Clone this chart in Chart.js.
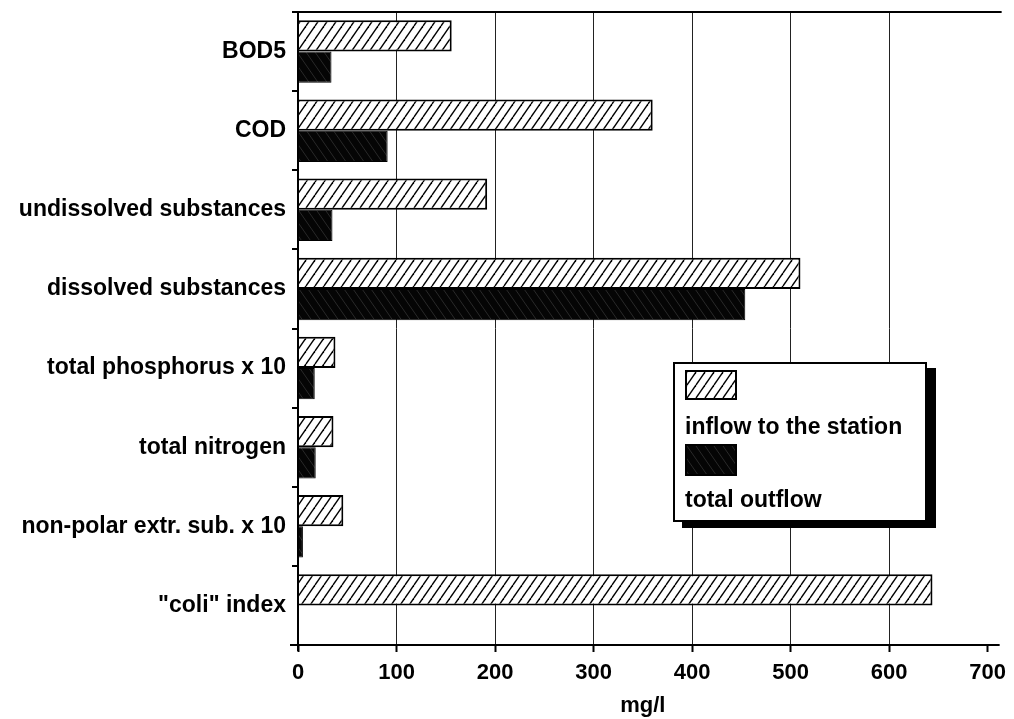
<!DOCTYPE html>
<html>
<head>
<meta charset="utf-8">
<title>Station inflow and outflow, mg/l</title>
<script src="https://cdn.jsdelivr.net/npm/chart.js@4/dist/chart.umd.min.js"></script>
<style>
    body { margin: 0; background: #fff; }
    #wrap { position: relative; width: 1014px; height: 719px; }
    #legendBox {
        position: absolute; left: 673px; top: 362px; width: 250px; height: 156px;
        border: 2px solid #000; background: #fff; box-shadow: 9px 6px 0 #000;
        font: bold 23px "Liberation Sans", Arial, sans-serif; color: #000;
    }
    #legendBox canvas { position: absolute; left: 10px; border: 2px solid #000; }
    #legendBox .txt { position: absolute; left: 10px; line-height: 26px; white-space: nowrap; }
</style>
</head>
<body>
<div id="wrap">
    <canvas id="chart" width="1014" height="719"></canvas>
    <div id="legendBox">
        <canvas id="swIn" width="48" height="26" style="top:6px"></canvas>
        <div class="txt" style="top:49px">inflow to the station</div>
        <canvas id="swOut" width="48" height="28" style="top:80px"></canvas>
        <div class="txt" style="top:122px">total outflow</div>
    </div>
</div>
<script>
// categories and values (mg/l)
const categories = ['BOD5', 'COD', 'undissolved substances', 'dissolved substances',
    'total phosphorus x 10', 'total nitrogen', 'non-polar extr. sub. x 10', '"coli" index'];
const inflow = [156, 360, 192, 510, 38, 36, 46, 644];
const outflow = [34, 91, 35, 454, 17, 18, 5, null];
const seriesNames = ['inflow to the station', 'total outflow'];
const xMin = 0, xMax = 700, xStep = 100;

const FONT = '"Liberation Sans", Arial, sans-serif';

// hatch patterns: "/" on white for inflow, "\" on black for outflow
function hatchCanvas(dark) {
    const w = 9, h = 13;
    const c = document.createElement('canvas');
    c.width = w; c.height = h;
    const g = c.getContext('2d');
    g.fillStyle = dark ? '#050505' : '#fff';
    g.fillRect(0, 0, w, h);
    g.strokeStyle = dark ? '#2a2a2a' : '#000';
    g.lineWidth = dark ? 1 : 1.4;
    for (let k = -1; k <= 1; k++) {
        g.beginPath();
        if (dark) {
            g.moveTo(k * w, 0); g.lineTo(k * w + w, h);
        } else {
            g.moveTo(k * w, h); g.lineTo(k * w + w, 0);
        }
        g.stroke();
    }
    return c;
}

function makePattern(ctx, dark) {
    return ctx.createPattern(hatchCanvas(dark), 'repeat');
}

// legend swatches
['swIn', 'swOut'].forEach(function(id, i) {
    const el = document.getElementById(id);
    const g = el.getContext('2d');
    g.fillStyle = makePattern(g, i === 1);
    g.fillRect(0, 0, el.width, el.height);
});

// frame lines of the original plot (top, left and bottom axis lines)
const framePlugin = {
    id: 'frame',
    afterDatasetsDraw(chart) {
        const a = chart.chartArea;
        const ctx = chart.ctx;
        ctx.save();
        ctx.strokeStyle = '#000';
        ctx.lineWidth = 2;
        ctx.beginPath();
        ctx.moveTo(a.left - 6, a.top); ctx.lineTo(a.right + 14, a.top);
        ctx.moveTo(a.left, a.top); ctx.lineTo(a.left, a.bottom + 6);
        ctx.moveTo(a.left - 8, a.bottom); ctx.lineTo(a.right + 12, a.bottom);
        ctx.stroke();
        ctx.restore();
    }
};

const ctx = document.getElementById('chart').getContext('2d');

new Chart(ctx, {
    type: 'bar',
    data: {
        labels: categories,
        datasets: [{
            label: seriesNames[0],
            data: inflow,
            backgroundColor: makePattern(ctx, false),
            borderColor: '#000',
            borderWidth: 2,
            borderSkipped: 'start',
            barPercentage: 1.0,
            categoryPercentage: 0.79
        }, {
            label: seriesNames[1],
            data: outflow,
            backgroundColor: makePattern(ctx, true),
            borderColor: '#000',
            borderWidth: 1,
            borderSkipped: 'start',
            barPercentage: 1.0,
            categoryPercentage: 0.79
        }]
    },
    options: {
        indexAxis: 'y',
        responsive: false,
        animation: false,
        layout: {
            padding: { left: 0, right: 26, top: 12, bottom: 0 }
        },
        plugins: {
            legend: { display: false },
            tooltip: { enabled: false }
        },
        scales: {
            x: {
                type: 'linear',
                min: xMin,
                max: xMax,
                border: { display: false },
                grid: {
                    color: function(c) {
                        const v = c.tick ? c.tick.value : 0;
                        return (v === xMin || v === xMax) ? 'rgba(0,0,0,0)' : '#222';
                    },
                    lineWidth: 1,
                    tickColor: '#000',
                    tickWidth: 2,
                    tickLength: 7
                },
                ticks: {
                    stepSize: xStep,
                    padding: 8,
                    color: '#000',
                    font: { family: FONT, size: 22, weight: 'bold' }
                },
                title: {
                    display: true,
                    text: 'mg/l',
                    color: '#000',
                    padding: { top: 0, bottom: 0 },
                    font: { family: FONT, size: 22, weight: 'bold' }
                },
                afterFit: function(scale) { scale.height = 74; }
            },
            y: {
                border: { display: false },
                grid: {
                    offset: true,
                    drawOnChartArea: false,
                    color: '#000',
                    lineWidth: 2,
                    tickLength: 6
                },
                ticks: {
                    padding: 6,
                    color: '#000',
                    font: { family: FONT, size: 23, weight: 'bold' }
                },
                afterFit: function(scale) {
                    scale.width = 298;
                    scale.paddingTop = 0;
                    scale.paddingBottom = 0;
                }
            }
        }
    },
    plugins: [framePlugin]
});
</script>
</body>
</html>
